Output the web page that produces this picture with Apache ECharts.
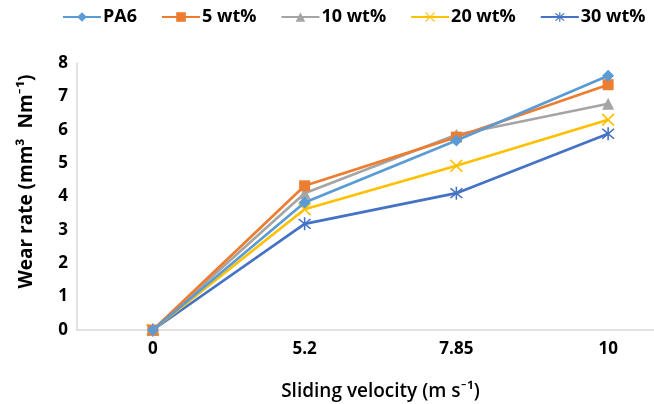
<!DOCTYPE html>
<html><head><meta charset="utf-8">
<script src="https://cdn.jsdelivr.net/npm/echarts@6/dist/echarts.min.js"></script>
<style>html,body{margin:0;padding:0;background:#fff}#c{width:654px;height:404px}</style>
</head><body><div id="c"></div>
<script>
const categories = ['0', '5.2', '7.85', '10'];
const seriesNames = ['PA6', '5 wt%', '10 wt%', '20 wt%', '30 wt%'];
const pa6 = [0, 3.82, 5.68, 7.62];
const wt5 = [0, 4.32, 5.78, 7.35];
const wt10 = [0, 4.1, 5.85, 6.78];
const wt20 = [0, 3.62, 4.92, 6.3];
const wt30 = [0, 3.18, 4.1, 5.88];
const yTicks = [0, 1, 2, 3, 4, 5, 6, 7, 8];

const X_PATH = 'path://M0,0.9 L0.9,0 L5,4.1 L9.1,0 L10,0.9 L5.9,5 L10,9.1 L9.1,10 L5,5.9 L0.9,10 L0,9.1 L4.1,5 Z';
const AST_PATH = 'path://M0,0.9 L0.9,0 L5,4.1 L9.1,0 L10,0.9 L5.9,5 L10,9.1 L9.1,10 L5,5.9 L0.9,10 L0,9.1 L4.1,5 Z M4.4,-1 L5.6,-1 L5.6,11 L4.4,11 Z';

const colors = ['#5B9BD5', '#ED7D31', '#A5A5A5', '#FFC000', '#4472C4'];
const symbols = ['diamond', 'rect', 'triangle', X_PATH, AST_PATH];
const sizes = [12, 11, 12, 13, 13];
const dataSets = [pa6, wt5, wt10, wt20, wt30];

const chart = echarts.init(document.getElementById('c'), null, {renderer: 'canvas'});
const FONT = '"Open Sans", Lato, sans-serif';
chart.setOption({
  animation: false,
  color: colors,
  textStyle: {fontFamily: FONT},
  legend: {
    top: 8,
    left: 62,
    padding: 0,
    itemWidth: 38,
    itemHeight: 12,
    itemGap: 24,
    textStyle: {fontSize: 18, fontWeight: 'bold', color: '#000', fontFamily: FONT, padding: [0, 0, 0, -3]},
    data: seriesNames
  },
  grid: {left: 77, width: 607, top: 63, bottom: 74, containLabel: false, outerBoundsMode: 'none'},
  xAxis: {
    type: 'category',
    data: categories,
    boundaryGap: true,
    axisLine: {lineStyle: {color: '#D9D9D9', width: 1.5}},
    axisTick: {show: false},
    axisLabel: {fontSize: 17, fontWeight: 'bold', color: '#000', margin: 11},
    name: 'Sliding velocity (m s\u207B\u00B9)',
    nameLocation: 'middle',
    nameGap: 52,
    nameTextStyle: {fontSize: 19, color: '#000', fontWeight: 600}
  },
  yAxis: {
    type: 'value',
    min: yTicks[0],
    max: yTicks[yTicks.length - 1],
    interval: 1,
    axisLine: {show: true, lineStyle: {color: '#D9D9D9', width: 1.5}},
    axisTick: {show: false},
    splitLine: {show: false},
    axisLabel: {fontSize: 17, fontWeight: 'bold', color: '#000', margin: 9},
    name: 'Wear rate (mm\u00B3  Nm\u207B\u00B9)',
    nameLocation: 'middle',
    nameGap: 41,
    nameTextStyle: {fontSize: 19, color: '#000', fontWeight: 'bold', padding: [0, 0, 0, 30]}
  },
  series: seriesNames.map((n, i) => ({
    name: n,
    type: 'line',
    data: dataSets[i],
    symbol: symbols[i],
    symbolSize: sizes[i],
    showAllSymbol: true,
    lineStyle: {width: 2.7, color: colors[i]},
    itemStyle: {color: colors[i], borderWidth: 0},
    z: 10 - i
  }))
});
</script></body></html>
